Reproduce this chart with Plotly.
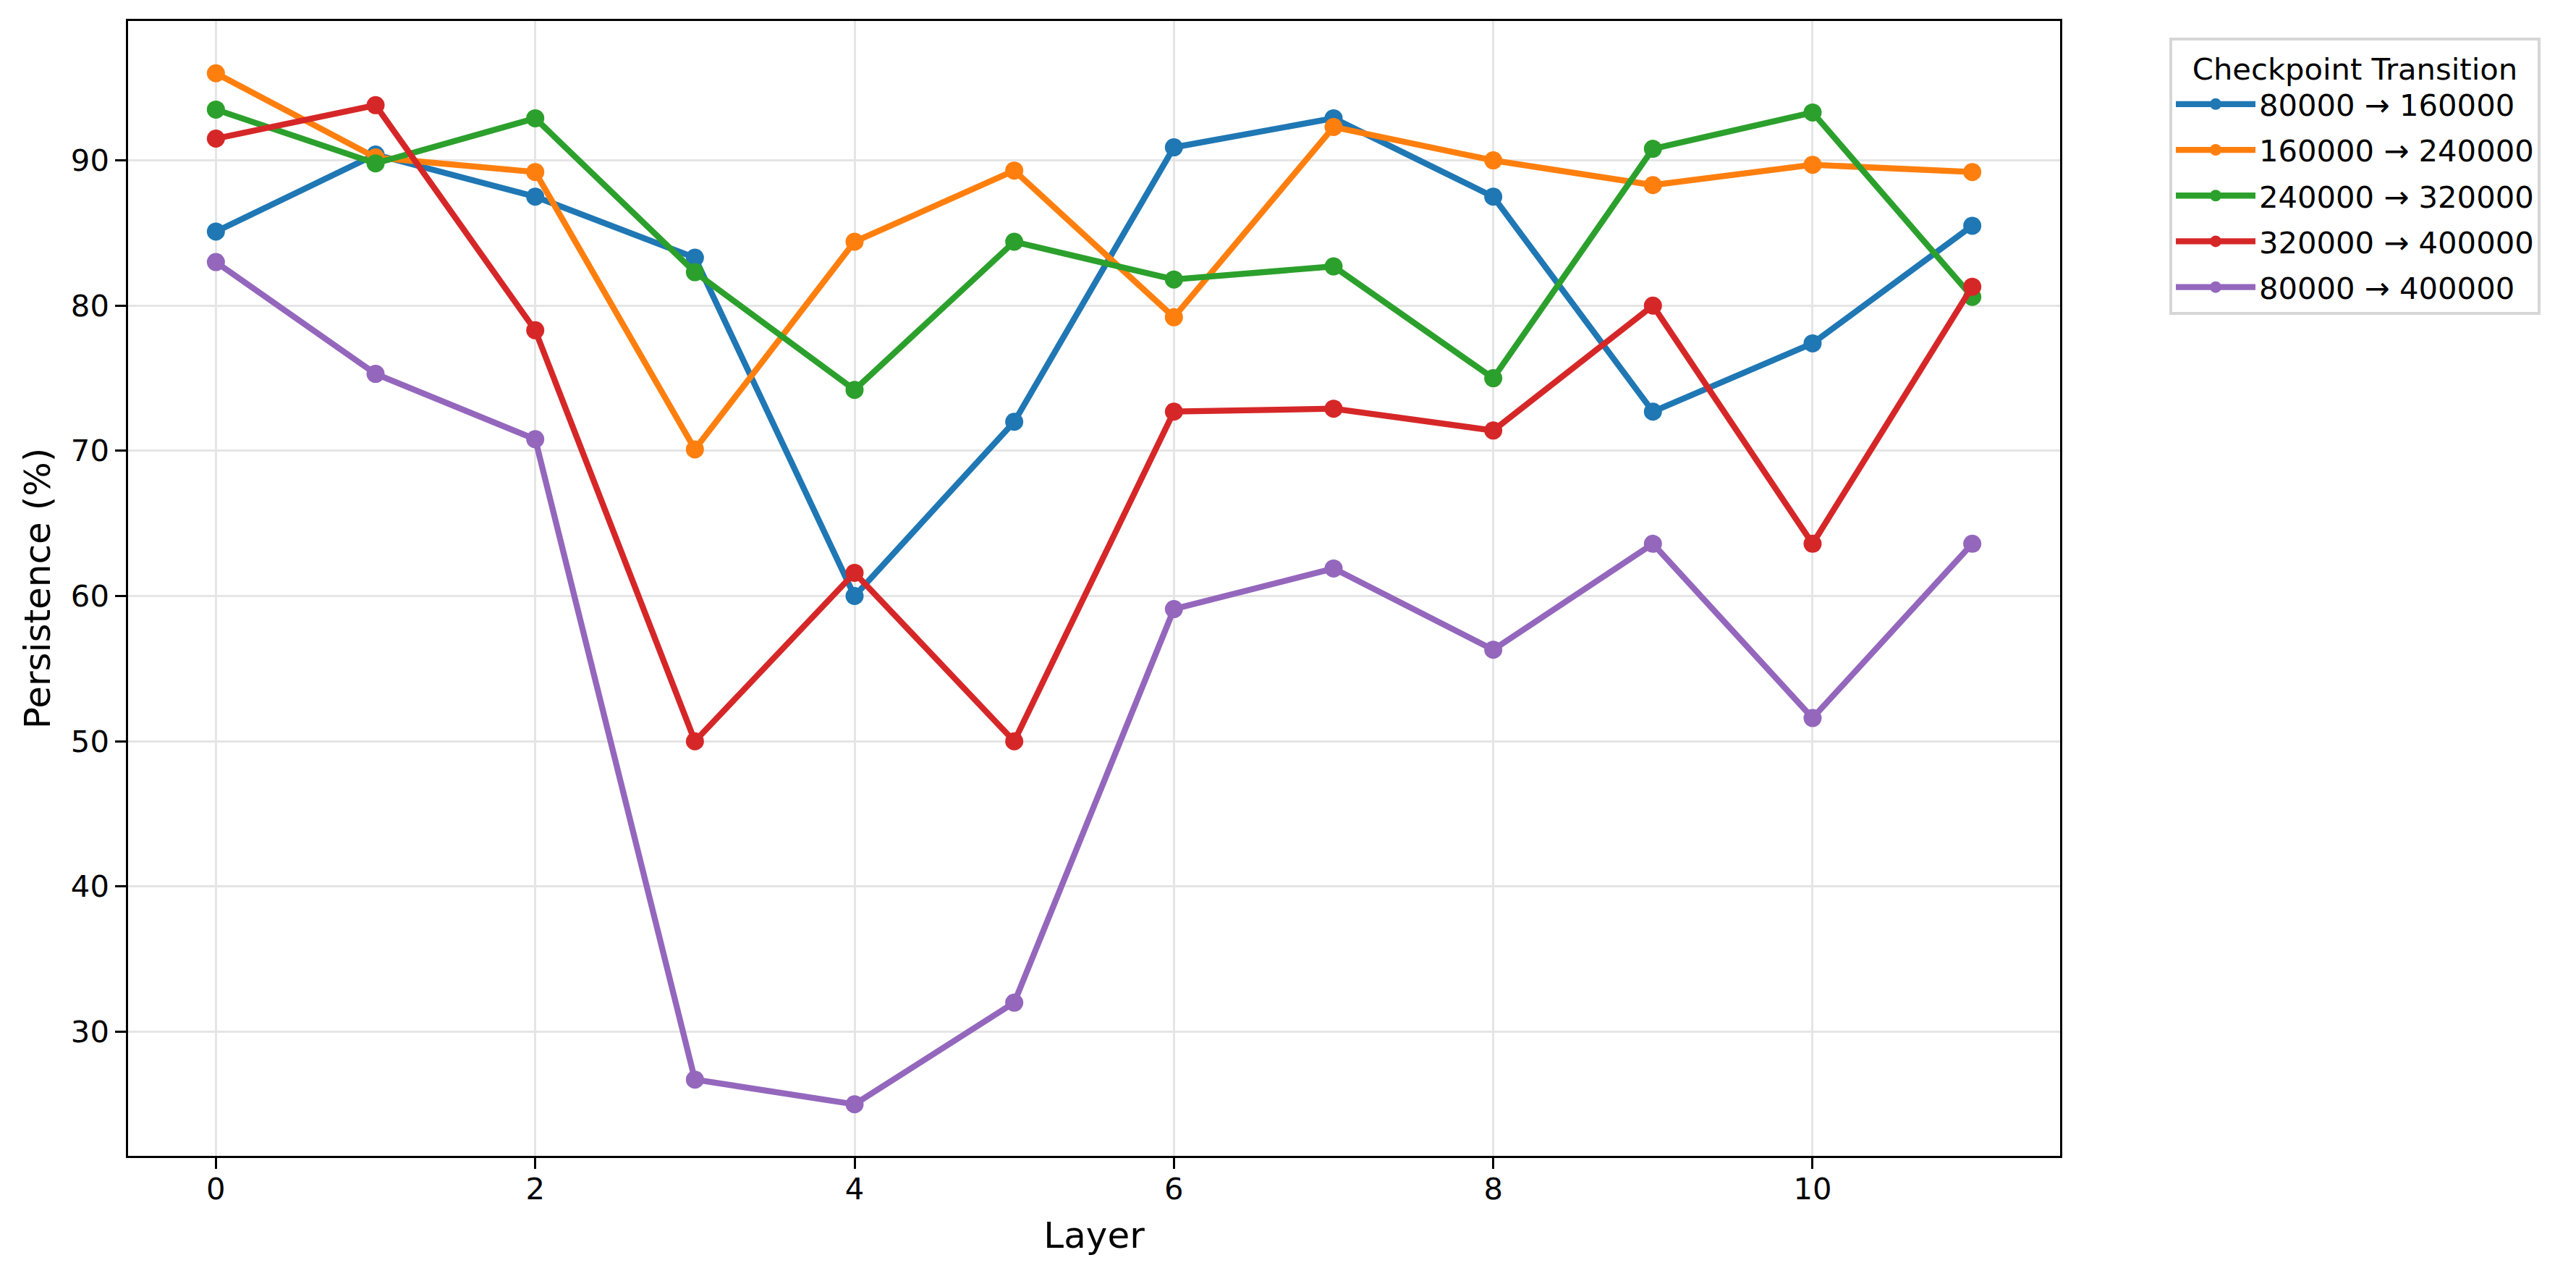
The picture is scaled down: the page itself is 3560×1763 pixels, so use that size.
import plotly.graph_objects as go

layers = list(range(12))
series_names = ["80000 → 160000", "160000 → 240000", "240000 → 320000",
                "320000 → 400000", "80000 → 400000"]
blue = [85.1, 90.4, 87.5, 83.3, 60.0, 72.0, 90.9, 92.9, 87.5, 72.7, 77.4, 85.5]
orange = [96.0, 90.2, 89.2, 70.1, 84.4, 89.3, 79.2, 92.3, 90.0, 88.3, 89.7, 89.2]
green = [93.5, 89.8, 92.9, 82.3, 74.2, 84.4, 81.8, 82.7, 75.0, 90.8, 93.3, 80.6]
red = [91.5, 93.8, 78.3, 50.0, 61.6, 50.0, 72.7, 72.9, 71.4, 80.0, 63.6, 81.3]
purple = [83.0, 75.3, 70.8, 26.7, 25.0, 32.0, 59.1, 61.9, 56.3, 63.6, 51.6, 63.6]
colors = ["#1f77b4", "#ff7f0e", "#2ca02c", "#d62728", "#9467bd"]
x_ticks = [0, 2, 4, 6, 8, 10]
y_ticks = [30, 40, 50, 60, 70, 80, 90]

# page body has an 8px margin; size the figure so it fits the window
PAD = 8
W, H = 3560 - 2 * PAD, 1763 - 2 * PAD
L = 177 - PAD
T = 29 - PAD
R = W - (2847 - PAD)
B = H - (1597 - PAD)
FONT = "DejaVu Sans"

fig = go.Figure()
for name, vals, c in zip(series_names, [blue, orange, green, red, purple], colors):
    fig.add_trace(go.Scatter(
        x=layers, y=vals, name=name, mode="lines+markers",
        line=dict(color=c, width=8.3),
        marker=dict(color=c, size=25),
        legendgroup=name,
    ))

axis_common = dict(
    showline=True, linecolor="black", linewidth=3.3, mirror=True,
    ticks="outside", ticklen=14.6, tickwidth=3.3, tickcolor="black",
    showgrid=True, gridcolor="#e5e5e5", gridwidth=3.3,
    zeroline=False,
    tickfont=dict(family=FONT, size=41.7, color="black"),
)

fig.update_xaxes(range=[-0.55, 11.55], tickvals=x_ticks, ticklabelstandoff=-8,
                 title=dict(text="Layer", font=dict(family=FONT, size=50, color="black"),
                            standoff=24),
                 **axis_common)
fig.update_yaxes(range=[21.45, 99.6], tickvals=y_ticks,
                 title=dict(text="Persistence (%)", font=dict(family=FONT, size=50, color="black"),
                            standoff=13),
                 **axis_common)

fig.update_layout(
    width=W, height=H,
    margin=dict(l=L, r=R, t=T, b=B, autoexpand=False),
    paper_bgcolor="white", plot_bgcolor="white",
    font=dict(family=FONT, size=41.7, color="black"),
    showlegend=True,
    legend=dict(
        title=dict(text="Checkpoint Transition", side="top center",
                   font=dict(family=FONT, size=41.7, color="black")),
        x=(2998 - 177) / (2847 - 177), xanchor="left",
        y=1 - (52 - 29) / (1597 - 29), yanchor="top",
        bordercolor="#d6d6d6", borderwidth=4, bgcolor="white",
        font=dict(family=FONT, size=41.7, color="black"),
        tracegroupgap=6, itemwidth=110,
    ),
)

fig.write_html("out.html")
